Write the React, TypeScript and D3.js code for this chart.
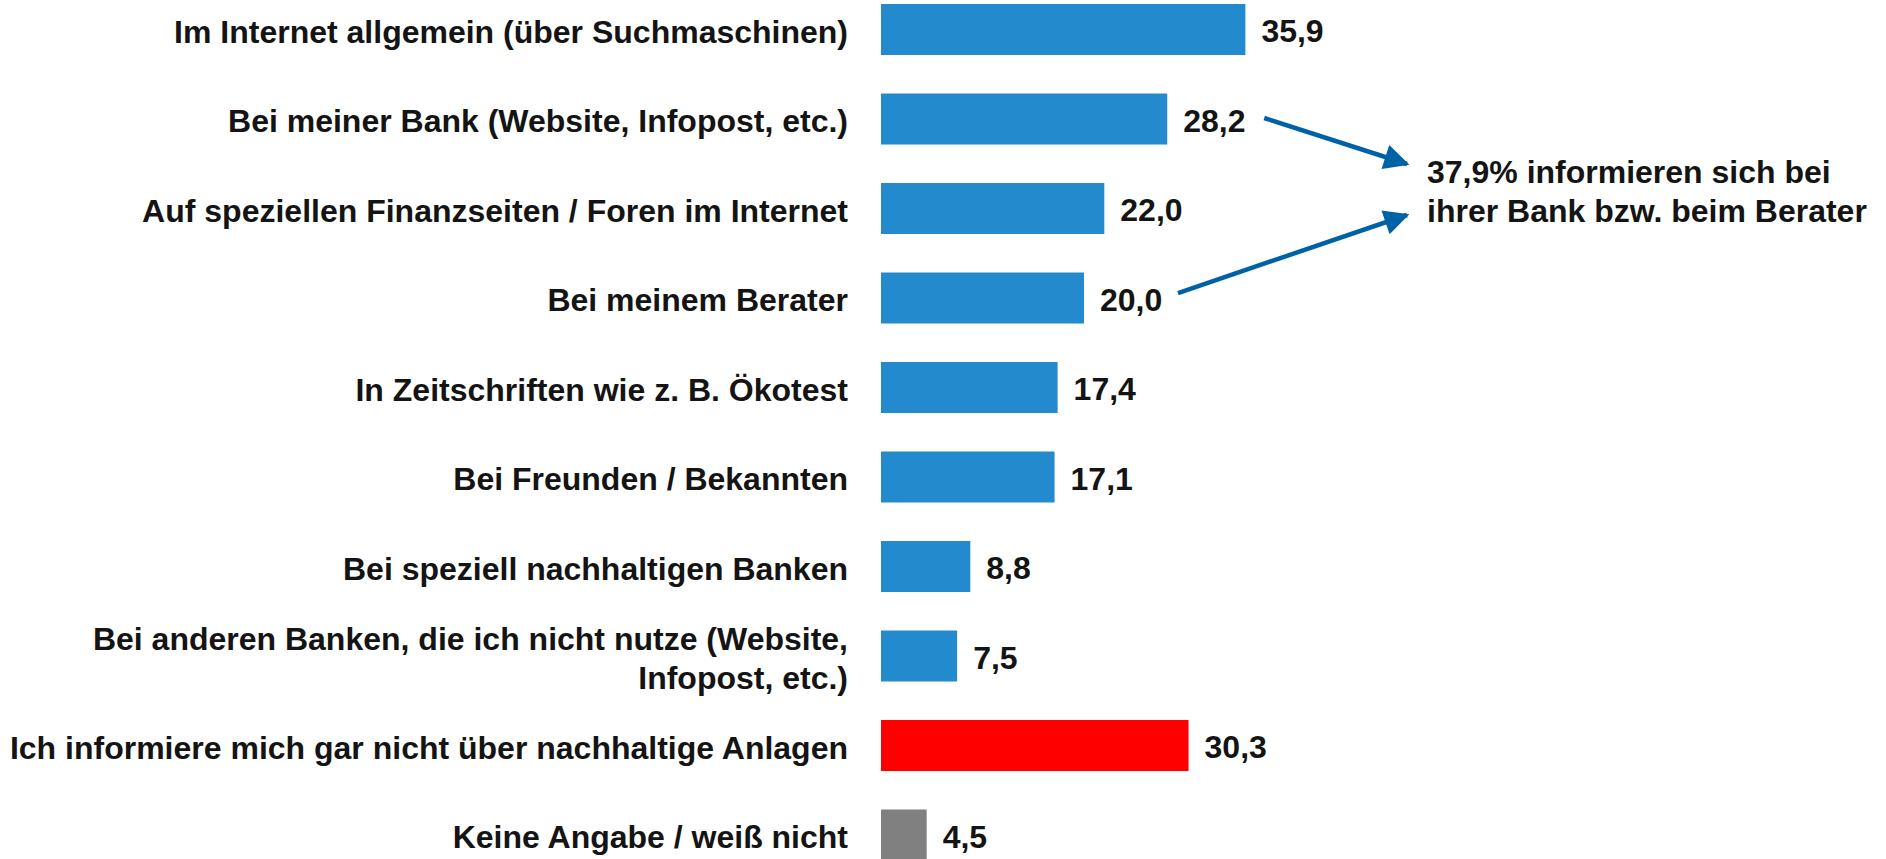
import React from "react";
import * as d3 from "d3";

const categories: string[][] = [
  ["Im Internet allgemein (über Suchmaschinen)"],
  ["Bei meiner Bank (Website, Infopost, etc.)"],
  ["Auf speziellen Finanzseiten / Foren im Internet"],
  ["Bei meinem Berater"],
  ["In Zeitschriften wie z. B. Ökotest"],
  ["Bei Freunden / Bekannten"],
  ["Bei speziell nachhaltigen Banken"],
  ["Bei anderen Banken, die ich nicht nutze (Website,", "Infopost, etc.)"],
  ["Ich informiere mich gar nicht über nachhaltige Anlagen"],
  ["Keine Angabe / weiß nicht"],
];
const values: number[] = [35.9, 28.2, 22.0, 20.0, 17.4, 17.1, 8.8, 7.5, 30.3, 4.5];
const barColors: string[] = [
  "#238BCD", "#238BCD", "#238BCD", "#238BCD", "#238BCD",
  "#238BCD", "#238BCD", "#238BCD", "#FF0000", "#808080",
];
const annotationLines: string[] = [
  "37,9% informieren sich bei",
  "ihrer Bank bzw. beim Berater",
];
// indices of bars whose value labels point to the annotation
const arrowSources: number[] = [1, 3];

const W = 1886;
const H = 859;
const FONT = "'Liberation Sans', Arial, Helvetica, sans-serif";
const FS = 32;
const TEXT = "#141414";
const ARROW = "#0062A6";

export default function App() {
  const x0 = 881;
  const x = d3.scaleLinear().domain([0, 100]).range([x0, x0 + 1015]);
  const y = d3
    .scaleBand<number>()
    .domain(d3.range(values.length))
    .range([4 - 89.5 * 0.215, 4 + 89.5 * (values.length - 0.215)])
    .paddingInner(0.43)
    .paddingOuter(0.215);

  const fmt = (v: number) => v.toFixed(1).replace(".", ",");
  const bw = y.bandwidth();
  const valueEnd = (i: number) => x(values[i]) + 16 + 62;

  const tipX = 1407;
  const tips = [164, 215];
  const starts = [
    { x: valueEnd(arrowSources[0]) + 19, y: (y(arrowSources[0]) as number) + bw / 2 - 1 },
    { x: valueEnd(arrowSources[1]) + 16, y: (y(arrowSources[1]) as number) + bw / 2 - 5 },
  ];

  return (
    <svg
      width={W}
      height={H}
      style={{ position: "absolute", left: 0, top: 0, background: "#fff" }}
      fontFamily={FONT}
    >
      <defs>
        <marker
          id="ah"
          viewBox="0 0 10 10"
          refX={9}
          refY={5}
          markerWidth={6.2}
          markerHeight={5.6}
          markerUnits="strokeWidth"
          orient="auto"
        >
          <path d="M0,0 L10,5 L0,10 z" fill={ARROW} />
        </marker>
      </defs>
      {values.map((v, i) => {
        const yy = y(i) as number;
        const cy = yy + bw / 2;
        const lines = categories[i];
        const lh = 39;
        const firstBase = cy + 13 - ((lines.length - 1) * lh) / 2;
        return (
          <g key={i}>
            <rect x={x(0)} y={yy} width={x(v) - x(0)} height={bw} fill={barColors[i]} />
            <text
              x={x(v) + 16}
              y={cy + 12.5}
              fontSize={FS}
              fontWeight="bold"
              fill={TEXT}
            >
              {fmt(v)}
            </text>
            <text textAnchor="end" fontSize={FS} fontWeight="bold" fill={TEXT}>
              {lines.map((l, k) => (
                <tspan key={k} x={848} y={firstBase + k * lh}>
                  {l}
                </tspan>
              ))}
            </text>
          </g>
        );
      })}
      {starts.map((s, k) => (
        <line
          key={k}
          x1={s.x}
          y1={s.y}
          x2={tipX}
          y2={tips[k]}
          stroke={ARROW}
          strokeWidth={4.5}
          markerEnd="url(#ah)"
        />
      ))}
      <text fontSize={FS} fontWeight="bold" fill={TEXT}>
        {annotationLines.map((l, k) => (
          <tspan key={k} x={1427} y={183 + k * 39}>
            {l}
          </tspan>
        ))}
      </text>
    </svg>
  );
}
